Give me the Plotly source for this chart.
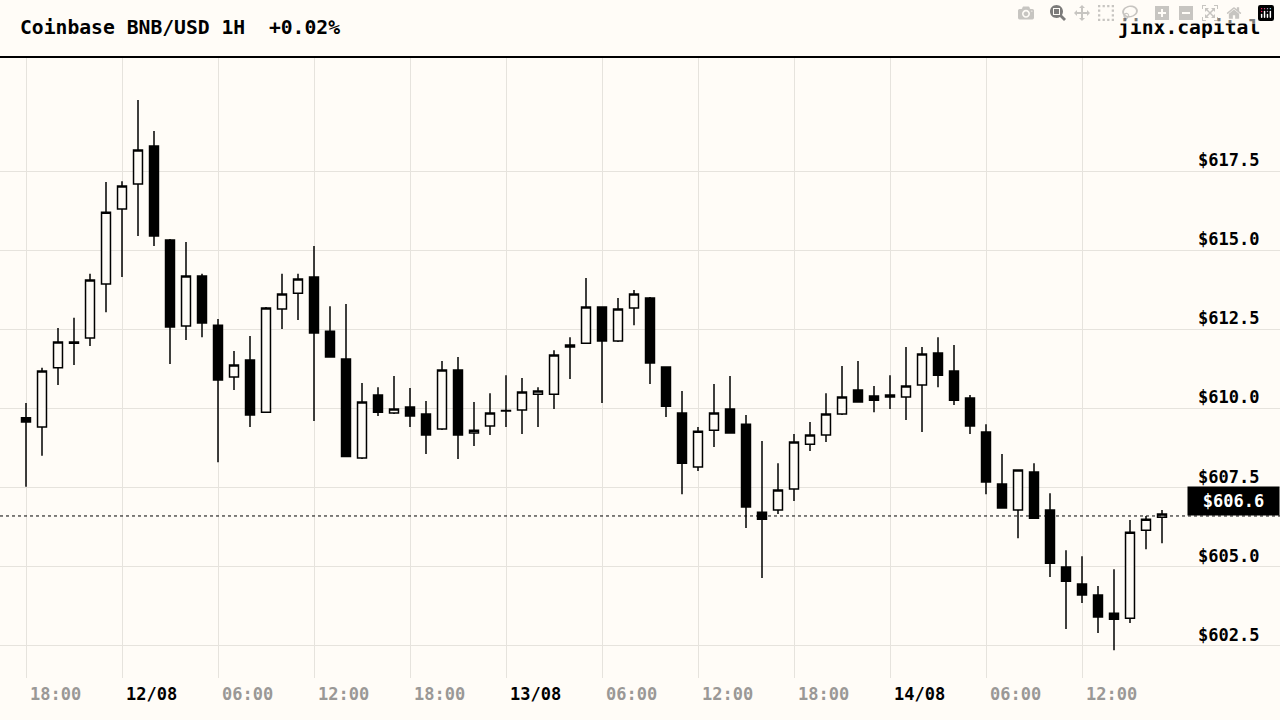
import plotly.graph_objects as go
import pandas as pd

start_time = "2024-08-11 18:00"
opens = [609.70,609.41,611.28,612.06,612.22,613.93,616.30,617.09,618.29,615.32,
         612.60,614.18,612.63,610.99,611.53,609.88,613.14,613.64,614.15,612.44,
         611.56,608.43,610.42,609.85,610.04,609.82,609.35,611.21,609.22,609.44,
         609.92,609.95,610.45,610.45,611.94,612.06,613.20,612.13,613.17,613.49,
         611.31,609.85,608.15,609.31,609.98,609.50,606.72,606.79,607.45,608.87,
         609.16,609.82,610.58,610.39,610.36,610.36,610.74,611.75,611.18,610.33,
         609.25,607.61,606.79,607.99,606.79,604.99,604.45,604.10,603.53,603.37,
         606.15,606.56]
highs = [610.17,611.28,612.54,612.86,614.25,617.15,617.18,619.74,618.76,615.35,
         615.26,614.25,612.82,611.81,612.29,613.20,614.25,614.25,615.13,613.23,
         613.30,610.80,610.67,611.02,610.64,610.23,611.50,611.62,610.20,610.48,
         611.05,610.96,610.67,611.84,612.25,614.12,613.22,613.49,613.74,613.52,
         611.33,610.55,609.41,610.77,611.02,609.79,608.97,608.27,609.19,609.57,
         610.48,611.34,611.50,610.71,611.05,611.94,611.94,612.25,612.00,610.42,
         609.50,608.56,608.05,608.27,607.32,605.52,605.33,604.39,604.92,606.47,
         606.60,606.79]
lows = [607.52,608.50,610.74,611.37,611.97,613.04,614.15,615.45,615.13,611.40,
        612.16,612.25,608.30,610.58,609.41,609.85,612.51,612.79,609.60,611.60,
        608.46,608.40,609.76,609.82,609.41,608.56,609.32,608.40,608.81,609.16,
        609.41,609.19,609.41,609.98,610.93,612.06,610.17,612.10,612.63,610.77,
        609.73,607.29,608.02,608.78,609.20,606.22,604.64,606.66,607.07,608.65,
        608.94,609.79,610.18,609.88,609.98,609.63,609.25,610.67,610.11,609.19,
        607.29,606.83,605.90,606.53,604.67,603.03,603.85,602.90,602.36,603.22,
        605.55,605.74]
closes = [609.57,611.18,612.10,612.10,614.06,616.20,617.03,618.16,615.45,612.57,
          614.18,612.70,610.90,611.37,609.79,613.17,613.61,614.09,612.38,611.62,
          608.48,610.20,609.88,609.98,609.76,609.16,611.21,609.16,609.31,609.85,
          609.93,610.52,610.55,611.69,612.00,613.20,612.13,613.14,613.61,611.43,
          610.07,608.27,609.28,609.85,609.22,606.88,606.50,607.42,608.94,609.16,
          609.82,610.36,610.20,610.26,610.42,610.71,611.72,611.05,610.26,609.44,
          607.67,606.85,608.05,606.53,605.11,604.54,604.10,603.41,603.34,606.09,
          606.50,606.66]

price_ticks = [602.5, 605.0, 607.5, 610.0, 612.5, 615.0, 617.5]
time_ticks = pd.date_range("2024-08-11 18:00", "2024-08-14 12:00", freq="6h")
time_labels = ["18:00","12/08","06:00","12:00","18:00","13/08","06:00","12:00",
               "18:00","14/08","06:00","12:00"]
last_price = 606.6
title_text = "Coinbase BNB/USD 1H  +0.02%"
brand_text = "jinx.capital"

times = pd.date_range(start_time, periods=len(opens), freq="1h")
t0 = times[0]

BG = "#fffcf7"
GRID = "#e6e3dd"
FONT = "DejaVu Sans Mono"

fig = go.Figure(go.Candlestick(
    x=times, open=opens, high=highs, low=lows, close=closes,
    increasing=dict(line=dict(color="black", width=1.5), fillcolor=BG),
    decreasing=dict(line=dict(color="black", width=1.5), fillcolor="black"),
    whiskerwidth=0, showlegend=False, hoverinfo="skip"))

y_dom = [1 - 678/720, 1 - 58/720]
ppx = 31.65
fig.update_layout(
    width=1280, height=720, margin=dict(l=0, r=0, t=0, b=0),
    paper_bgcolor=BG, plot_bgcolor=BG, showlegend=False, boxgap=0.2,
    font=dict(family=FONT, color="black"),
    xaxis=dict(type="date", rangeslider=dict(visible=False),
               range=[t0 - pd.Timedelta(minutes=97.5), t0 + pd.Timedelta(minutes=78.375*60)],
               tickvals=time_ticks, showticklabels=False, showgrid=True,
               gridcolor=GRID, gridwidth=1, zeroline=False, showline=False),
    yaxis=dict(domain=y_dom, range=[617.5 - 507/ppx, 617.5 + 113/ppx],
               tickvals=price_ticks, showticklabels=False, showgrid=True,
               gridcolor=GRID, gridwidth=1, zeroline=False, showline=False),
)

anns = []
for p in price_ticks:
    anns.append(dict(x=1, xref="paper", xanchor="right", xshift=-19, y=p, yref="y",
                     yanchor="middle", yshift=11, showarrow=False,
                     text=f"<b>${p:.1f}</b>", font=dict(size=17, family=FONT, color="black")))
for t, lab in zip(time_ticks, time_labels):
    is_day = "/" in lab
    anns.append(dict(x=t, xref="x", xanchor="left", xshift=2, y=26/720, yref="paper",
                     yanchor="middle", showarrow=False, text=f"<b>{lab}</b>",
                     font=dict(size=17, family=FONT, color="black" if is_day else "#9a9896")))
anns.append(dict(x=18/1280, xref="paper", xanchor="left", y=1 - 28/720, yref="paper",
                 yanchor="middle", showarrow=False, text=f"<b>{title_text}</b>",
                 font=dict(size=19.7, family=FONT, color="black")))
anns.append(dict(x=1 - 18/1280, xref="paper", xanchor="right", y=1 - 28/720, yref="paper",
                 yanchor="middle", showarrow=False, text=f"<b>{brand_text}</b>",
                 font=dict(size=19.7, family=FONT, color="black")))
anns.append(dict(x=1, xref="paper", xanchor="right", y=last_price, yref="y", yanchor="bottom",
                 showarrow=False, text=f"<b>${last_price:.1f}</b>", bgcolor="black",
                 borderpad=4, width=83, align="center",
                 font=dict(size=17, family=FONT, color="white")))
fig.update_layout(annotations=anns)

fig.add_shape(type="line", xref="paper", yref="paper", x0=0, x1=1,
              y0=1 - 57/720, y1=1 - 57/720, line=dict(color="black", width=2))
fig.add_shape(type="line", xref="paper", yref="y", x0=0, x1=1,
              y0=last_price, y1=last_price, line=dict(color="black", width=1, dash="3px,3px"))

fig.write_html("out.html",
               post_script="document.body.style.margin='0';document.body.style.overflow='hidden';")
